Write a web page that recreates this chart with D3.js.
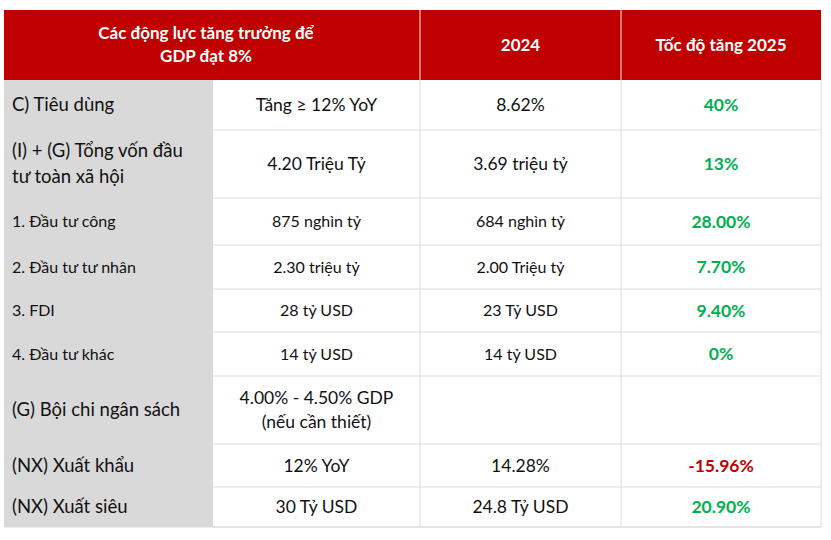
<!DOCTYPE html>
<html><head><meta charset="utf-8">
<script src="https://cdn.jsdelivr.net/npm/d3@7"></script>
<style>body{margin:0;background:#fff}svg{display:block}</style>
</head><body><svg id="c" width="831" height="540"></svg>
<script>
// Table data
const headers = ['Các động lực tăng trưởng để\nGDP đạt 8%', '2024', 'Tốc độ tăng 2025'];
const drivers = ['C) Tiêu dùng', '(I) + (G) Tổng vốn đầu\ntư toàn xã hội', '1. Đầu tư công', '2. Đầu tư tư nhân',
  '3. FDI', '4. Đầu tư khác', '(G) Bội chi ngân sách', '(NX) Xuất khẩu', '(NX) Xuất siêu'];
const targets = ['Tăng ≥ 12% YoY', '4.20 Triệu Tỷ', '875 nghìn tỷ', '2.30 triệu tỷ', '28 tỷ USD', '14 tỷ USD',
  '4.00% - 4.50% GDP\n(nếu cần thiết)', '12% YoY', '30 Tỷ USD'];
const values2024 = ['8.62%', '3.69 triệu tỷ', '684 nghìn tỷ', '2.00 Triệu tỷ', '23 Tỷ USD', '14 tỷ USD', '', '14.28%', '24.8 Tỷ USD'];
const growth2025 = ['40%', '13%', '28.00%', '7.70%', '9.40%', '0%', '', '-15.96%', '20.90%'];
const small = [false, false, true, true, true, true, false, false, false];

const svg = d3.select('#c');
const font = 'Lato, "Open Sans", sans-serif';
const colX = [4, 213, 420, 621, 821];
const headH = 70;
const rowH = [50, 68, 47, 44, 43, 44, 68, 43, 40];
const tableTop = 10;
const rowY = [tableTop + headH];
rowH.forEach((h, i) => rowY.push(rowY[i] + h));

// Header
svg.append('rect').attr('x', colX[0]).attr('y', tableTop).attr('width', colX[4] - colX[0]).attr('height', headH).attr('fill', '#C00000');
[2, 3].forEach((i) => svg.append('line').attr('x1', colX[i]).attr('x2', colX[i]).attr('y1', tableTop).attr('y2', tableTop + headH)
  .attr('stroke', '#e8a0a0').attr('stroke-width', 1.5));

function multiText(x, y, str, opts) {
  const lines = str.split('\n');
  const lh = opts.lh || 22;
  const t = svg.append('text').attr('x', x).attr('text-anchor', opts.anchor || 'middle')
    .attr('font-family', font).attr('font-size', opts.size).attr('font-weight', opts.weight || 'normal')
    .attr('fill', opts.fill || '#111');
  lines.forEach((l, i) => t.append('tspan').attr('x', x)
    .attr('y', y + (i - (lines.length - 1) / 2) * lh).attr('dy', '0.35em').text(l));
}

headers.forEach((h, i) => {
  const cx = i === 0 ? (colX[0] + colX[2]) / 2 - 6 : (colX[i + 1] + colX[i + 2]) / 2;
  multiText(cx, tableTop + headH / 2, h, { size: 17, weight: 'bold', fill: '#fff', lh: 23 });
});

// Body
drivers.forEach((d, i) => {
  const y0 = rowY[i], h = rowH[i];
  svg.append('rect').attr('x', colX[0]).attr('y', y0).attr('width', colX[1] - colX[0]).attr('height', h).attr('fill', '#D9D9D9');
  svg.append('line').attr('x1', colX[1]).attr('x2', colX[4]).attr('y1', y0 + h).attr('y2', y0 + h).attr('stroke', '#dcdcdc');
  const fs = small[i] ? 16 : 18.5;
  multiText(colX[0] + 8, y0 + h / 2, d, { size: fs, anchor: 'start', lh: 26 });
  multiText((colX[1] + colX[2]) / 2, y0 + h / 2, targets[i], { size: small[i] ? 16 : 17.5, lh: 24 });
  multiText((colX[2] + colX[3]) / 2, y0 + h / 2, values2024[i], { size: small[i] ? 16 : 17.5 });
  const v = growth2025[i];
  multiText((colX[3] + colX[4]) / 2, y0 + h / 2, v, { size: 17.5, weight: 'bold', fill: v.startsWith('-') ? '#C00000' : '#00B050' });
});
[2, 3, 4].forEach((i) => svg.append('line').attr('x1', colX[i]).attr('x2', colX[i]).attr('y1', rowY[0]).attr('y2', rowY[rowY.length - 1])
  .attr('stroke', '#dcdcdc'));
svg.append('line').attr('x1', colX[0]).attr('x2', colX[4]).attr('y1', rowY[rowY.length - 1]).attr('y2', rowY[rowY.length - 1]).attr('stroke', '#dcdcdc');
</script></body></html>
